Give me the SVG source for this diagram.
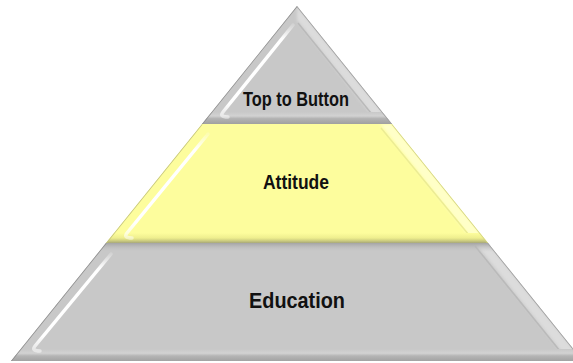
<svg xmlns="http://www.w3.org/2000/svg" width="573" height="363" viewBox="0 0 573 363">
  <style>
    .label { font-family: "Liberation Sans", Arial, sans-serif; font-weight: bold; fill: #111; text-anchor: middle; }
    .edge { fill: none; stroke-width: 1.5; }
    .shine { fill: none; stroke: url(#shine); stroke-width: 3.5; stroke-linecap: round; filter: url(#soft); }
  </style>
  <defs>
    <filter id="soft" x="-20%" y="-20%" width="140%" height="140%">
      <feGaussianBlur stdDeviation="0.6"/>
    </filter>
    <filter id="softer" x="-20%" y="-20%" width="140%" height="140%">
      <feGaussianBlur stdDeviation="1.4"/>
    </filter>
    <!-- highlight streak along the lit left edges -->
    <linearGradient id="shine" x1="0" y1="0" x2="0" y2="1">
      <stop offset="0" stop-color="#fff" stop-opacity="0.2"/>
      <stop offset="0.15" stop-color="#fff" stop-opacity="1"/>
      <stop offset="0.85" stop-color="#fff" stop-opacity="1"/>
      <stop offset="1" stop-color="#fff" stop-opacity="0.5"/>
    </linearGradient>
    <!-- bottom bevel shading -->
    <linearGradient id="grayBottom" x1="0" y1="0" x2="0" y2="1">
      <stop offset="0" stop-color="#c8c8c8"/>
      <stop offset="0.3" stop-color="#d2d2d2"/>
      <stop offset="0.5" stop-color="#b4b4b4"/>
      <stop offset="1" stop-color="#9c9c9c"/>
    </linearGradient>
    <linearGradient id="yellowBottom" x1="0" y1="0" x2="0" y2="1">
      <stop offset="0" stop-color="#fdfd9d"/>
      <stop offset="0.5" stop-color="#eeee8e"/>
      <stop offset="0.8" stop-color="#c9c97e"/>
      <stop offset="1" stop-color="#a8a878"/>
    </linearGradient>
    <!-- shadow cast onto the top of the base layer -->
    <linearGradient id="grayTop" x1="0" y1="0" x2="0" y2="1">
      <stop offset="0" stop-color="#a4a4a4"/>
      <stop offset="1" stop-color="#c8c8c8" stop-opacity="0"/>
    </linearGradient>
    <clipPath id="clipTop"><polygon points="297,6 392,124 202,124"/></clipPath>
    <clipPath id="clipMid"><polygon points="202,124 392,124 488,243 106,243"/></clipPath>
    <clipPath id="clipBase"><polygon points="106,243 488,243 583,361 11,361"/></clipPath>
  </defs>

  <rect width="573" height="363" fill="#fff"/>

  <!-- base tier -->
  <g id="education">
    <polygon points="106,243 488,243 583,361 11,361" fill="#c8c8c8"/>
    <g clip-path="url(#clipBase)">
      <polygon points="488,243 583,361 569,361 475,243" fill="#dcdcdc" filter="url(#softer)"/>
      <line x1="475" y1="246" x2="564" y2="356" stroke="#bababa" stroke-width="1.5" filter="url(#soft)"/>
      <rect x="0" y="243" width="573" height="9" fill="url(#grayTop)"/>
      <rect x="0" y="349" width="573" height="14" fill="url(#grayBottom)"/>
      <path class="shine" d="M111,254 L35,346 Q31,351 40,351"/>
      <line class="edge" x1="106" y1="243" x2="11" y2="361" stroke="#8e8e8e"/>
      <line class="edge" x1="488" y1="243" x2="583" y2="361" stroke="#a0a0a0"/>
    </g>
    <text class="label" x="297" y="308" font-size="22" textLength="96" lengthAdjust="spacingAndGlyphs">Education</text>
  </g>

  <!-- middle tier -->
  <g id="attitude">
    <polygon points="202,124 392,124 488,243 106,243" fill="#fdfd9d"/>
    <g clip-path="url(#clipMid)">
      <polygon points="392,124 488,243 475,243 380,124" fill="#ffffc8" filter="url(#softer)"/>
      <line x1="381" y1="128" x2="473" y2="240" stroke="#ecec94" stroke-width="1.5" filter="url(#soft)"/>
      <rect x="0" y="233" width="573" height="10" fill="url(#yellowBottom)"/>
      <path class="shine" d="M208,134 L127,233 Q123,238 132,238"/>
      <line class="edge" x1="202" y1="124" x2="106" y2="243" stroke="#c2c27e"/>
      <line class="edge" x1="392" y1="124" x2="488" y2="243" stroke="#d2d286"/>
    </g>
    <text class="label" x="296" y="189" font-size="20" textLength="66" lengthAdjust="spacingAndGlyphs">Attitude</text>
  </g>

  <!-- top tier -->
  <g id="top-to-button">
    <polygon points="297,6 392,124 202,124" fill="#c8c8c8"/>
    <g clip-path="url(#clipTop)">
      <polygon points="297,6 392,124 379,124 297,20" fill="#dcdcdc" filter="url(#softer)"/>
      <line x1="298" y1="23" x2="375" y2="118" stroke="#bababa" stroke-width="1.5" filter="url(#soft)"/>
      <rect x="0" y="112" width="573" height="13" fill="url(#grayBottom)"/>
      <path class="shine" d="M293,25 L223,112 Q219,117 228,117"/>
      <line class="edge" x1="297" y1="6" x2="202" y2="124" stroke="#8e8e8e"/>
      <line class="edge" x1="297" y1="6" x2="392" y2="124" stroke="#a0a0a0"/>
    </g>
    <text class="label" x="296" y="106" font-size="20" textLength="106" lengthAdjust="spacingAndGlyphs">Top to Button</text>
  </g>
</svg>
